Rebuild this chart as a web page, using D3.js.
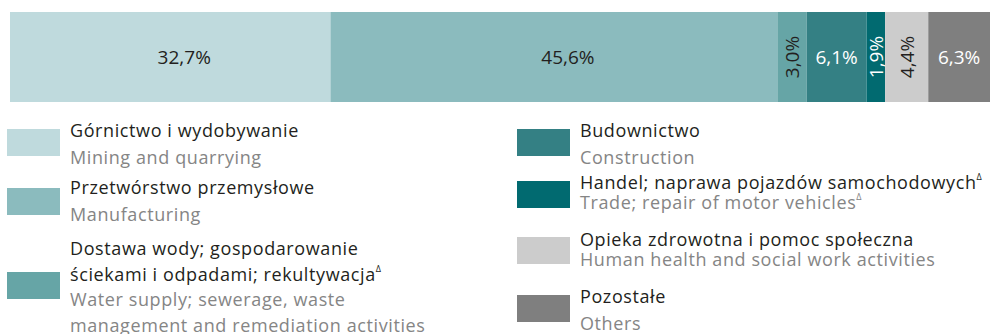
<!DOCTYPE html>
<html>
<head>
<meta charset="utf-8">
<script src="https://cdn.jsdelivr.net/npm/d3@7"></script>
<style>
  html, body { margin: 0; padding: 0; background: #fff; }
  svg { display: block; }
  text { font-family: "Open Sans", "Noto Sans", sans-serif; }
</style>
</head>
<body>
<svg id="chart" width="990" height="334"></svg>
<script>
// Shares of sections (per cent), in bar order
const shares = [32.7, 45.6, 3.0, 6.1, 1.9, 4.4, 6.3];

// Polish section names ("^" marks a superscript triangle, "\n" a line break)
const namesPl = [
  "Górnictwo i wydobywanie",
  "Przetwórstwo przemysłowe",
  "Dostawa wody; gospodarowanie\nściekami i odpadami; rekultywacja^",
  "Budownictwo",
  "Handel; naprawa pojazdów samochodowych^",
  "Opieka zdrowotna i pomoc społeczna",
  "Pozostałe"
];

// English section names
const namesEn = [
  "Mining and quarrying",
  "Manufacturing",
  "Water supply; sewerage, waste\nmanagement and remediation activities",
  "Construction",
  "Trade; repair of motor vehicles^",
  "Human health and social work activities",
  "Others"
];

// Segment colours
const colors = ["#bfdadd", "#8bbbbe", "#66a5a6", "#348084", "#016a70", "#cccccc", "#7f7f7f"];

// ---- layout ----
const bar = { x0: 10, x1: 990, top: 12, bottom: 102 };
const fontSize = 18;
const letterSpacing = 0.6;
const wideShift = 14;   // labels of wide segments sit a little right of centre

// legend: column x, swatch top, first baseline, line step for each entry
const legendLayout = [
  { x: 7,   swTop: 129, base: 137, step: 26.5 },
  { x: 7,   swTop: 188, base: 194, step: 26.5 },
  { x: 7,   swTop: 272, base: 255, step: 25.5 },
  { x: 517, swTop: 129, base: 137, step: 26.5 },
  { x: 517, swTop: 181, base: 189, step: 20 },
  { x: 517, swTop: 237, base: 246, step: 19.5 },
  { x: 517, swTop: 295, base: 303, step: 26.5 }
];
const swatch = { w: 53, h: 27, gap: 10 };

const svg = d3.select("#chart");

const x = d3.scaleLinear().domain([0, 100]).range([bar.x0, bar.x1]);
const ends = Array.from(d3.cumsum(shares));
const segs = shares.map((v, i) => ({ v, i, start: ends[i] - v, end: ends[i] }));

const fmt = v => d3.format(".1f")(v).replace(".", ",") + "%";

// ---- stacked bar ----
svg.append("g").selectAll("rect")
  .data(segs)
  .join("rect")
  .attr("x", d => x(d.start))
  .attr("y", bar.top)
  .attr("width", d => x(d.end) - x(d.start))
  .attr("height", bar.bottom - bar.top)
  .attr("fill", d => colors[d.i]);

const midY = (bar.top + bar.bottom) / 2;
const labels = svg.append("g").selectAll("text")
  .data(segs)
  .join("text")
  .attr("font-size", 19)
  .attr("text-anchor", "middle")
  .attr("dominant-baseline", "central")
  .attr("fill", d => d3.hsl(colors[d.i]).l < 0.52 ? "#ffffff" : "#231f20")
  .text(d => fmt(d.v));

// narrow segments get their label turned upright
labels.each(function (d) {
  const w = x(d.end) - x(d.start);
  const tw = this.getComputedTextLength();
  const cx = (x(d.start) + x(d.end)) / 2 + (w > 200 ? wideShift : 0);
  const rot = tw + 6 > w ? " rotate(-90)" : "";
  d3.select(this).attr("transform", `translate(${cx},${midY})${rot}`);
});

// ---- legend ----
function addLines(g, str, x0, y0, step, fill) {
  const lines = str.split("\n");
  lines.forEach((ln, k) => {
    const sup = ln.endsWith("^");
    const t = g.append("text")
      .attr("x", x0)
      .attr("y", y0 + k * step)
      .attr("font-size", fontSize)
      .attr("letter-spacing", letterSpacing)
      .attr("fill", fill);
    t.append("tspan").text(sup ? ln.slice(0, -1) : ln);
    if (sup) {
      t.append("tspan")
        .attr("dy", -9)
        .attr("font-size", 9)
        .text("\u0394");
    }
  });
  return lines.length;
}

const legend = svg.append("g");
segs.forEach(d => {
  const L = legendLayout[d.i];
  const g = legend.append("g");
  g.append("rect")
    .attr("x", L.x).attr("y", L.swTop)
    .attr("width", swatch.w).attr("height", swatch.h)
    .attr("fill", colors[d.i]);
  const tx = L.x + swatch.w + swatch.gap;
  const n = addLines(g, namesPl[d.i], tx, L.base, L.step, "#231f20");
  addLines(g, namesEn[d.i], tx, L.base + n * L.step, L.step, "#858585");
});
</script>
</body>
</html>
